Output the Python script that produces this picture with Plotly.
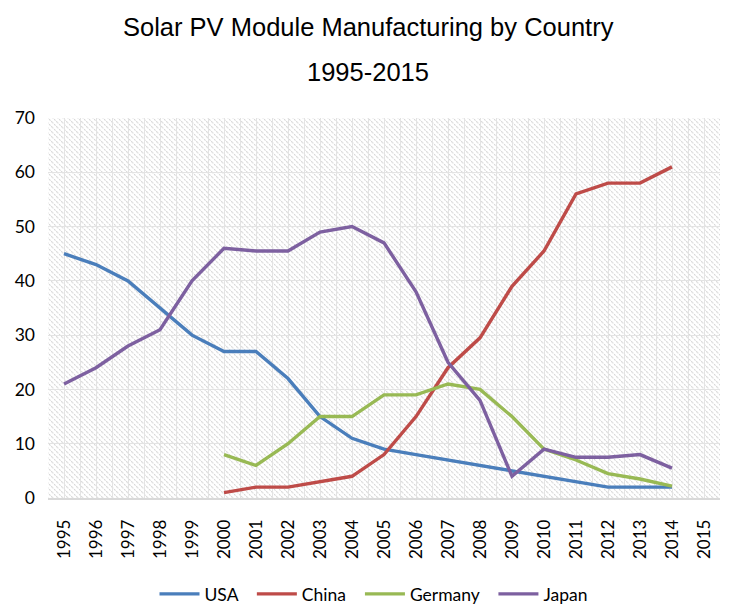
import base64
import plotly.graph_objects as go

years = list(range(1995, 2015))
tick_years = list(range(1995, 2016))

usa = [45, 43, 40, 35, 30, 27, 27, 22, 15, 11, 9, 8, 7, 6, 5, 4, 3, 2, 2, 2]
china = [None, None, None, None, None, 1, 2, 2, 3, 4, 8, 15, 24, 29.5, 39, 45.5, 56, 58, 58, 61]
germany = [None, None, None, None, None, 8, 6, 10, 15, 15, 19, 19, 21, 20, 15, 9, 7, 4.5, 3.5, 2.2]
japan = [21, 24, 28, 31, 40, 46, 45.5, 45.5, 49, 50, 47, 38, 25, 18, 4, 9, 7.5, 7.5, 8, 5.5]

series = [("USA", usa, "#4A7EBB"), ("China", china, "#BE4B48"),
          ("Germany", germany, "#98B954"), ("Japan", japan, "#7D60A0")]

# page body has an 8px margin, so the figure is sized/positioned to compensate
OFF = 8
W, H = 729 - OFF, 607 - OFF
ML, MR, MT, MB = 48 - OFF, 9, 118 - OFF, 109
PW, PH = W - ML - MR, H - MT - MB

# hatched background pattern (decoration)
svg = f'''<svg xmlns="http://www.w3.org/2000/svg" width="{PW}" height="{PH}" viewBox="0 0 {PW} {PH}">
<defs><pattern id="p" patternUnits="userSpaceOnUse" width="5" height="5">
<path d="M-1,-1 L6,6 M-1,4 L1,6 M4,-1 L6,1" stroke="#d6d6d6" stroke-width="1.1" stroke-dasharray="2,1"/>
</pattern></defs>
<rect width="{PW}" height="{PH}" fill="url(#p)"/></svg>'''
src = "data:image/svg+xml;base64," + base64.b64encode(svg.encode()).decode()

fig = go.Figure()
for name, vals, col in series:
    fig.add_trace(go.Scatter(x=years, y=vals, name=name + "\u00a0\u00a0", mode="lines",
                             line=dict(color=col, width=3.4), connectgaps=False))

fig.update_layout(
    width=W, height=H,
    margin=dict(l=ML, r=MR, t=MT, b=MB, autoexpand=False),
    paper_bgcolor="white", plot_bgcolor="white",
    font=dict(family="Lato, Liberation Sans, sans-serif", size=16, color="#000"),
    showlegend=True,
    legend=dict(orientation="h", x=(378 - OFF) / W, xanchor="center", xref="container",
                y=1 - (594 - OFF) / H, yanchor="middle", yref="container",
                font=dict(size=17.5, family="Lato, sans-serif"), itemwidth=40, tracegroupgap=0),
    images=[dict(source=src, xref="paper", yref="paper", x=0, y=1, sizex=1, sizey=1,
                 xanchor="left", yanchor="top", sizing="stretch", layer="below")],
    annotations=[
        dict(text="Solar PV Module Manufacturing by Country", xref="paper", yref="paper",
             x=(368 - ML - OFF) / PW, y=(H - (27 - OFF) - MB) / PH, xanchor="center", yanchor="middle",
             showarrow=False,
             font=dict(family="Liberation Sans, Arial, sans-serif", size=25.5, color="#000")),
        dict(text="1995-2015", xref="paper", yref="paper",
             x=(368 - ML - OFF) / PW, y=(H - (72 - OFF) - MB) / PH, xanchor="center", yanchor="middle",
             showarrow=False,
             font=dict(family="Liberation Sans, Arial, sans-serif", size=25.5, color="#000")),
    ],
)
fig.update_xaxes(range=[1994.5, 2015.5], tickmode="array", tickvals=tick_years,
                 ticktext=[str(y) for y in tick_years], tickangle=-90,
                 showgrid=True, gridcolor="#e3e3e3", gridwidth=1,
                 minor=dict(tick0=1994.5, dtick=1, showgrid=True, gridcolor="#e3e3e3", gridwidth=1),
                 showline=True, linecolor="#d9d9d9", linewidth=1.5, ticks="", zeroline=False,
                 tickfont=dict(size=17), automargin=False, ticklabelstandoff=13)
fig.update_yaxes(range=[0, 70], dtick=10, showgrid=True, gridcolor="#e3e3e3", gridwidth=1,
                 zeroline=False, showline=False, ticks="", tickfont=dict(size=17.5),
                 automargin=False, ticklabelstandoff=12)

fig.write_html("out.html")
